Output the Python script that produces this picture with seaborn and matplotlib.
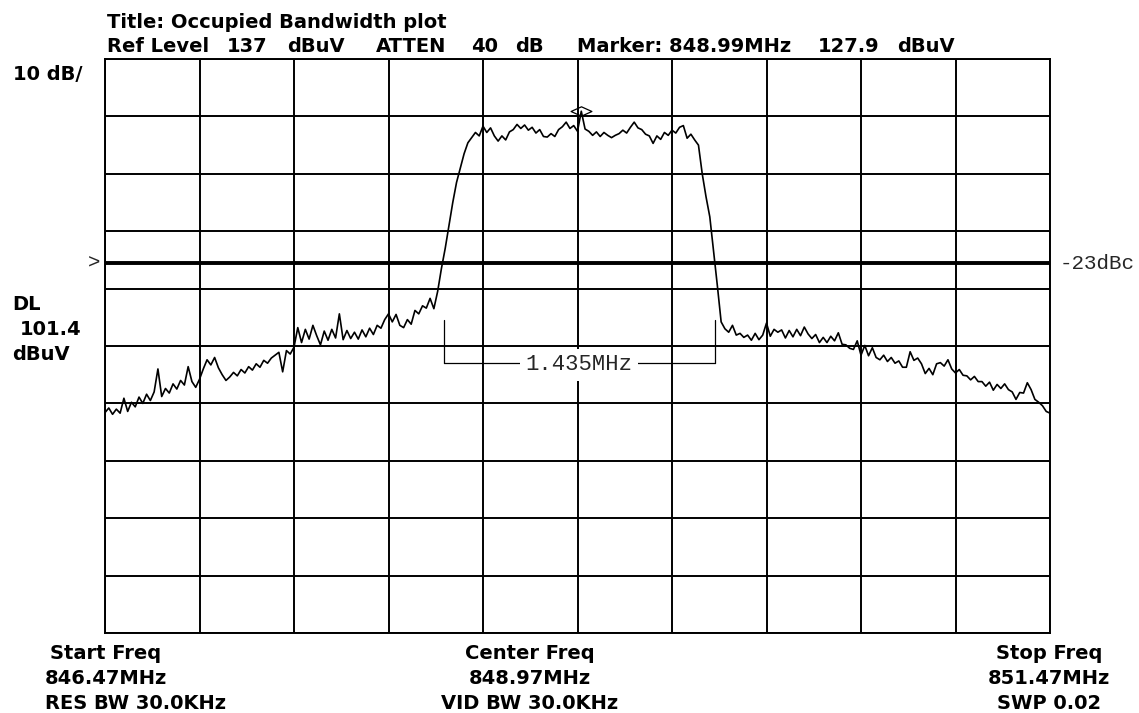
import numpy as np
import pandas as pd
import matplotlib
matplotlib.use("Agg")
import matplotlib.pyplot as plt
import matplotlib.transforms as mtransforms
from matplotlib.path import Path
import seaborn as sns

# Analyzer settings
plot_title = "Occupied Bandwidth plot"
start_mhz = 846.47
center_mhz = 848.97
stop_mhz = 851.47
ref_level = 137
atten_db = 40
db_per_div = 10
n_div = 10
res_bw_khz = 30.0
vid_bw_khz = 30.0
sweep_time = "0.02"

# Marker, display line and occupied-bandwidth readout
marker_mhz = 848.99
marker_dbuv = 127.9
display_line = 101.4
dbc = -23
obw_lo = 848.262
obw_mhz = 1.435
obw_tick_top = 91.5
obw_tick_bottom = 84.0

# Swept trace level (dBuV), evenly spaced from start to stop frequency
trace_dbuv = [
    75.4, 76.2, 75.1, 76.0, 75.3, 77.9, 75.6, 77.2, 76.4, 78.1,
    77.0, 78.6, 77.5, 79.0, 83.0, 78.2, 79.6, 78.8, 80.4, 79.5,
    81.0, 80.2, 83.4, 80.8, 79.8, 81.2, 83.0, 84.6, 83.7, 85.0,
    83.2, 82.0, 81.0, 81.6, 82.4, 81.8, 82.9, 82.3, 83.4, 82.8,
    83.9, 83.3, 84.5, 84.0, 84.9, 85.4, 85.9, 82.5, 86.2, 85.6,
    86.8, 90.2, 87.6, 89.9, 88.2, 90.6, 88.8, 87.2, 89.6, 88.0,
    89.9, 88.4, 92.6, 88.1, 89.7, 88.3, 89.4, 88.2, 89.8, 88.6,
    90.1, 89.0, 90.6, 90.1, 91.6, 92.6, 91.2, 92.5, 90.6, 90.2,
    91.6, 90.8, 93.2, 92.6, 94.0, 93.6, 95.3, 93.5, 96.5, 100.5,
    104.0, 108.0, 112.0, 115.5, 118.0, 120.5, 122.4, 123.3, 124.2, 123.6,
    125.3, 124.2, 125.0, 123.6, 122.7, 123.6, 122.9, 124.3, 124.7, 125.6,
    124.9, 125.5, 124.6, 125.1, 124.1, 124.7, 123.5, 123.4, 124.0, 123.5,
    124.7, 125.2, 126.0, 124.9, 125.4, 124.4, 127.9, 124.8, 124.4, 123.7,
    124.3, 123.5, 124.2, 123.7, 123.3, 123.7, 124.0, 124.6, 124.1, 125.1,
    126.0, 125.0, 124.7, 123.9, 123.6, 122.3, 123.6, 123.0, 124.2, 123.7,
    124.6, 124.1, 125.1, 125.4, 123.2, 123.9, 122.9, 122.0, 117.0, 113.0,
    109.5, 103.5, 97.5, 91.2, 90.0, 89.4, 90.6, 88.9, 89.2, 88.5,
    88.9, 88.0, 89.2, 88.1, 88.9, 91.0, 88.7, 89.9, 89.4, 89.8,
    88.4, 89.7, 88.6, 89.9, 88.8, 90.3, 89.1, 88.3, 89.0, 87.6,
    88.5, 87.6, 88.7, 87.9, 89.3, 87.3, 87.2, 86.6, 86.4, 87.9,
    85.4, 87.1, 85.3, 86.7, 85.0, 84.6, 85.4, 84.3, 85.0, 84.0,
    84.4, 83.3, 83.3, 86.0, 84.5, 84.9, 83.9, 82.2, 83.1, 82.0,
    83.9, 84.1, 83.5, 84.6, 83.0, 82.3, 82.9, 81.9, 81.8, 81.1,
    81.7, 80.8, 80.8, 80.0, 80.7, 79.3, 80.3, 79.6, 80.4, 79.4,
    79.0, 77.7, 78.9, 78.8, 80.6, 79.4, 77.7, 77.2, 76.6, 75.6, 75.3,
]

freq_mhz = np.linspace(start_mhz, stop_mhz, len(trace_dbuv))
df = pd.DataFrame({"freq": freq_mhz, "level": trace_dbuv})

sns.set_style("white")
plt.rcParams["font.family"] = ["DejaVu Sans"]

W, H = 1139, 713
fig = plt.figure(figsize=(W / 100, H / 100), dpi=100)
ax = fig.add_axes([105 / W, 1 - 633 / H, 945 / W, 574 / H])

sns.lineplot(data=df, x="freq", y="level", ax=ax, color="black",
             linewidth=1.2, estimator=None, sort=False, zorder=4)

bottom_level = ref_level - n_div * db_per_div
ax.set_xlim(start_mhz, stop_mhz)
ax.set_ylim(bottom_level, ref_level)
ax.set_xticks(np.linspace(start_mhz, stop_mhz, n_div + 1))
ax.set_yticks(np.linspace(bottom_level, ref_level, n_div + 1))
ax.tick_params(length=0, labelbottom=False, labelleft=False)
ax.set_xlabel("")
ax.set_ylabel("")
ax.grid(True, color="black", linewidth=1.4)
ax.set_axisbelow(True)
for s in ax.spines.values():
    s.set_visible(True)
    s.set_color("black")
    s.set_linewidth(1.4)

# Display line
ax.axhline(display_line, color="black", linewidth=2.8, zorder=3)
edge = mtransforms.blended_transform_factory(ax.transAxes, ax.transData)
ax.text(1 + 10 / 945, display_line, f"{dbc}dBc", transform=edge,
        ha="left", va="center", family="Liberation Mono", fontsize=15)
ax.text(-11 / 945, display_line, ">", transform=edge,
        ha="center", va="center", family="Liberation Mono", fontsize=15)

# Peak marker
diamond = Path([(-1, 0), (0, 0.45), (1, 0), (0, -0.45), (-1, 0)],
               [Path.MOVETO, Path.LINETO, Path.LINETO, Path.LINETO, Path.CLOSEPOLY])
ax.plot([marker_mhz], [marker_dbuv], marker=diamond, markersize=15,
        markerfacecolor="none", markeredgecolor="black", markeredgewidth=0.9,
        linestyle="none", zorder=5)

# Occupied bandwidth bracket
obw_hi = obw_lo + obw_mhz
ax.plot([obw_lo, obw_lo], [obw_tick_top, obw_tick_bottom], color="black", linewidth=0.9, zorder=4)
ax.plot([obw_hi, obw_hi], [obw_tick_top, obw_tick_bottom], color="black", linewidth=0.9, zorder=4)
ax.plot([obw_lo, obw_hi], [obw_tick_bottom, obw_tick_bottom], color="black", linewidth=0.9, zorder=4)
ax.text((obw_lo + obw_hi) / 2, obw_tick_bottom - 0.3, f"{obw_mhz:.3f}MHz",
        ha="center", va="center", family="Liberation Mono", fontsize=16, zorder=6,
        bbox=dict(facecolor="white", edgecolor="none", pad=4))


def label(x, y, s, ha="left"):
    fig.text(x / W, 1 - y / H, s, ha=ha, va="baseline",
             fontsize=14, fontweight="bold", color="black")


# Header
label(107, 28, f"Title: {plot_title}")
label(107, 52, "Ref Level")
label(227, 52, f"{ref_level}")
label(287, 52, "dBuV")
label(376, 52, "ATTEN")
label(471, 52, f"{atten_db}")
label(515, 52, "dB")
label(577, 52, f"Marker: {marker_mhz:.2f}MHz")
label(818, 52, f"{marker_dbuv}")
label(897, 52, "dBuV")

# Left side
label(13, 80, f"{db_per_div} dB/")
label(12, 310, "DL")
label(20, 335, f"{display_line}")
label(12, 360, "dBuV")

# Footer
label(106, 659, "Start Freq", ha="center")
label(106, 684, f"{start_mhz:.2f}MHz", ha="center")
label(45, 709, f"RES BW {res_bw_khz:.1f}KHz")
label(530, 659, "Center Freq", ha="center")
label(530, 684, f"{center_mhz:.2f}MHz", ha="center")
label(530, 709, f"VID BW {vid_bw_khz:.1f}KHz", ha="center")
label(1049, 659, "Stop Freq", ha="center")
label(1049, 684, f"{stop_mhz:.2f}MHz", ha="center")
label(1049, 709, f"SWP {sweep_time}", ha="center")

fig.savefig("out.png", dpi=100)
